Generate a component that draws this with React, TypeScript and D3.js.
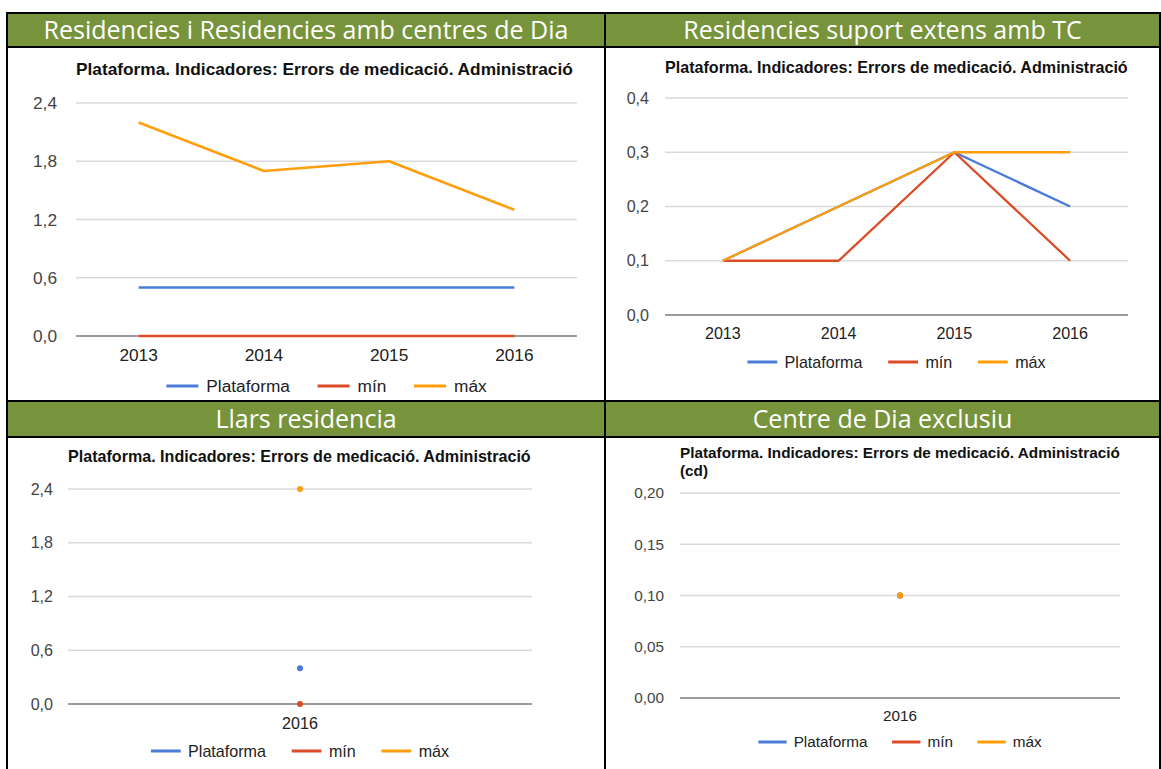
import React from "react";
import * as d3 from "d3";

// ---------- DATA ----------
const seriesNames = ["Plataforma", "mín", "máx"];
const seriesColors = ["#4a7bd6", "#dc4b26", "#ff9d0b"];

const headers = [
  "Residencies i Residencies amb centres de Dia",
  "Residencies suport extens amb TC",
  "Llars residencia",
  "Centre de Dia exclusiu",
];

const chartTitleLines = ["Plataforma. Indicadores: Errors de medicació. Administració"];
const chartTitleLinesCd = ["Plataforma. Indicadores: Errors de medicació. Administració", "(cd)"];

// Panel 1: Residencies i Residencies amb centres de Dia
const years1 = ["2013", "2014", "2015", "2016"];
const plataforma1 = [0.5, 0.5, 0.5, 0.5];
const min1 = [0, 0, 0, 0];
const max1 = [2.2, 1.7, 1.8, 1.3];
const yTicks1 = [0, 0.6, 1.2, 1.8, 2.4];

// Panel 2: Residencies suport extens amb TC
const years2 = ["2013", "2014", "2015", "2016"];
const plataforma2 = [0.1, 0.2, 0.3, 0.2];
const min2 = [0.1, 0.1, 0.3, 0.1];
const max2 = [0.1, 0.2, 0.3, 0.3];
const yTicks2 = [0, 0.1, 0.2, 0.3, 0.4];

// Panel 3: Llars residencia
const years3 = ["2016"];
const plataforma3 = [0.4];
const min3 = [0];
const max3 = [2.4];
const yTicks3 = [0, 0.6, 1.2, 1.8, 2.4];

// Panel 4: Centre de Dia exclusiu
const years4 = ["2016"];
const plataforma4 = [0.1];
const min4 = [0.1];
const max4 = [0.1];
const yTicks4 = [0, 0.05, 0.1, 0.15, 0.2];

// ---------- LAYOUT ----------
const W = 1161;
const H = 769;
const GREEN = "#77933c";
const FONT = "'Liberation Sans', Arial, sans-serif";

type Layout = {
  x0: number; x1: number; yTop: number; yBot: number;
  titleY: number; fs: number; yLabelX: number; xLabelY: number; legendY: number;
  decimals: number; stroke: number;
};

const layouts: Layout[] = [
  { x0: 76, x1: 577, yTop: 103, yBot: 336, titleY: 75, fs: 17.3, yLabelX: 57, xLabelY: 361, legendY: 386, decimals: 1, stroke: 2.6 },
  { x0: 665, x1: 1128, yTop: 98, yBot: 315, titleY: 73, fs: 16.1, yLabelX: 649, xLabelY: 339, legendY: 362, decimals: 1, stroke: 2.3 },
  { x0: 68, x1: 532, yTop: 489, yBot: 704, titleY: 462, fs: 16.1, yLabelX: 53, xLabelY: 729, legendY: 751, decimals: 1, stroke: 2.3 },
  { x0: 680, x1: 1120, yTop: 493, yBot: 698, titleY: 458, fs: 15.3, yLabelX: 664, xLabelY: 721, legendY: 742, decimals: 2, stroke: 2.2 },
];

const panelData = [
  { years: years1, series: [plataforma1, min1, max1], ticks: yTicks1, title: chartTitleLines },
  { years: years2, series: [plataforma2, min2, max2], ticks: yTicks2, title: chartTitleLines },
  { years: years3, series: [plataforma3, min3, max3], ticks: yTicks3, title: chartTitleLines },
  { years: years4, series: [plataforma4, min4, max4], ticks: yTicks4, title: chartTitleLinesCd },
];

let measureCtx: CanvasRenderingContext2D | null = null;
function textWidth(t: string, fs: number, bold = false) {
  if (!measureCtx) measureCtx = document.createElement("canvas").getContext("2d");
  if (!measureCtx) return t.length * fs * 0.55;
  measureCtx.font = `${bold ? "bold " : ""}${fs}px ${FONT}`;
  return measureCtx.measureText(t).width;
}

function Chart({ idx }: { idx: number }) {
  const L = layouts[idx];
  const D = panelData[idx];
  const x = d3.scalePoint<string>().domain(D.years).range([L.x0, L.x1]).padding(0.5);
  const yMax = d3.max(D.ticks) as number;
  const y = d3.scaleLinear().domain([0, yMax]).range([L.yBot, L.yTop]);
  const fmt = (v: number) => d3.format(`.${L.decimals}f`)(v).replace(".", ",");
  const line = d3
    .line<number>()
    .x((_, i) => x(D.years[i]) as number)
    .y((v) => y(v));

  // legend layout
  const lineLen = L.fs * 1.85;
  const gapLT = L.fs * 0.46;
  const gapItem = L.fs * 1.6;
  const widths = seriesNames.map((n) => textWidth(n, L.fs));
  const total = widths.reduce((a, w) => a + w + lineLen + gapLT, 0) + gapItem * (seriesNames.length - 1);
  let lx = (L.x0 + L.x1) / 2 - total / 2;
  const legendItems = seriesNames.map((n, i) => {
    const item = { name: n, color: seriesColors[i], lx, tx: lx + lineLen + gapLT };
    lx += lineLen + gapLT + widths[i] + gapItem;
    return item;
  });

  return (
    <g>
      {D.title.map((t, i) => (
        <text key={i} x={L.x0} y={L.titleY + i * L.fs * 1.2} fontFamily={FONT} fontWeight="bold" fontSize={L.fs} fill="#111">
          {t}
        </text>
      ))}
      {D.ticks.map((t) => (
        <g key={t}>
          {t !== 0 && (
            <line x1={L.x0} x2={L.x1} y1={y(t)} y2={y(t)} stroke="#d9d9d9" strokeWidth={1.3} />
          )}
          <text x={L.yLabelX} y={y(t)} dy="0.35em" textAnchor="end" fontFamily={FONT} fontSize={L.fs} fill="#444">
            {fmt(t)}
          </text>
        </g>
      ))}
      <line x1={L.x0} x2={L.x1} y1={y(0)} y2={y(0)} stroke="#7a7a7a" strokeWidth={1.6} />
      {D.years.map((yr) => (
        <text key={yr} x={x(yr)} y={L.xLabelY} textAnchor="middle" fontFamily={FONT} fontSize={L.fs} fill="#222">
          {yr}
        </text>
      ))}
      {D.series.map((s, i) =>
        s.length > 1 ? (
          <path key={i} d={line(s) || ""} fill="none" stroke={seriesColors[i]} strokeWidth={L.stroke} strokeLinejoin="round" />
        ) : (
          <circle key={i} cx={x(D.years[0])} cy={y(s[0])} r={3} fill={seriesColors[i]} />
        )
      )}
      {legendItems.map((it) => (
        <g key={it.name}>
          <line x1={it.lx} x2={it.lx + lineLen} y1={L.legendY} y2={L.legendY} stroke={it.color} strokeWidth={3} />
          <text x={it.tx} y={L.legendY} dy="0.35em" fontFamily={FONT} fontSize={L.fs} fill="#222">
            {it.name}
          </text>
        </g>
      ))}
    </g>
  );
}

export default function App() {
  const colX = [7, 605, 1160];
  const hdr = [
    { y0: 14, y1: 46 },
    { y0: 402, y1: 436 },
  ];
  const headerFs = 25;
  return (
    <svg width={W} height={H} style={{ position: "absolute", left: 0, top: 0, display: "block", background: "#fff" }}>
      <rect x={0} y={0} width={W} height={H} fill="#fff" />
      {hdr.map((h, r) => (
        <rect key={r} x={colX[0]} y={h.y0} width={colX[2] - colX[0]} height={h.y1 - h.y0} fill={GREEN} />
      ))}
      {headers.map((t, i) => {
        const r = Math.floor(i / 2);
        const c = i % 2;
        const cx = (colX[c] + colX[c + 1]) / 2;
        const cy = (hdr[r].y0 + hdr[r].y1) / 2;
        return (
          <text key={t} x={cx} y={cy} dy="0.36em" textAnchor="middle" fontFamily="'Open Sans', sans-serif" fontSize={headerFs} fill="#fff">
            {t}
          </text>
        );
      })}
      {[0, 1, 2, 3].map((i) => (
        <Chart key={i} idx={i} />
      ))}
      {/* table borders */}
      {[13, 47, 401, 437].map((yy) => (
        <line key={yy} x1={colX[0] - 1} x2={colX[2] + 1} y1={yy} y2={yy} stroke="#000" strokeWidth={2} />
      ))}
      {colX.map((xx) => (
        <line key={xx} x1={xx} x2={xx} y1={12} y2={H} stroke="#000" strokeWidth={2} />
      ))}
    </svg>
  );
}
